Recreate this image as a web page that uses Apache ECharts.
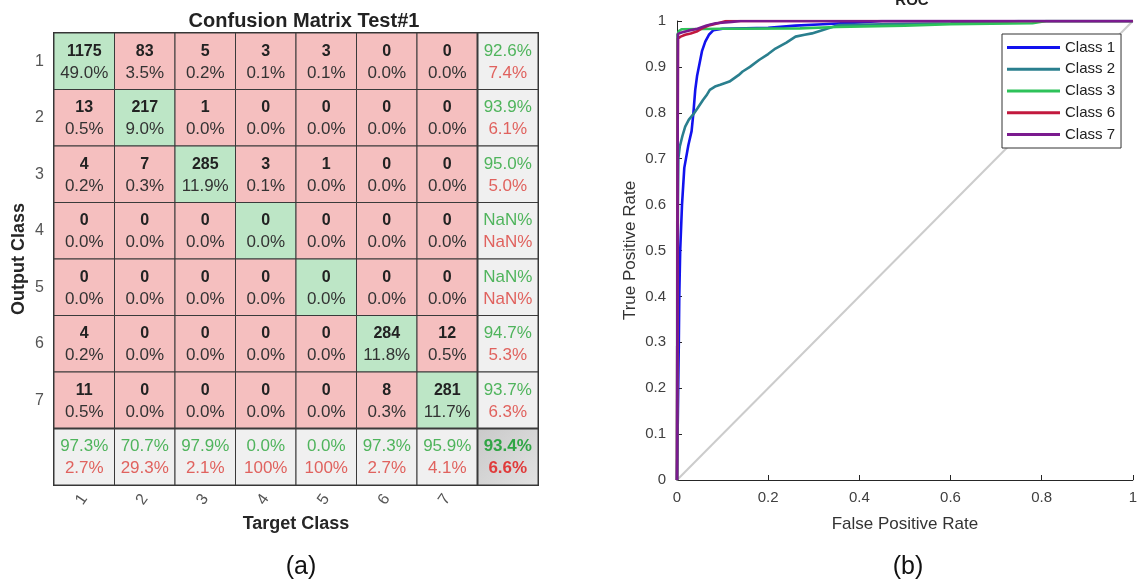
<!DOCTYPE html>
<html><head><meta charset="utf-8">
<script src="https://cdn.jsdelivr.net/npm/echarts@6/dist/echarts.min.js"></script>
<style>html,body{margin:0;padding:0;background:#fff}#c{width:1140px;height:585px}</style>
</head><body><div id="c"></div>
<script>
// ---------- Confusion matrix data ----------
const classes = ['1','2','3','4','5','6','7'];
// rows = output class, columns = target class
const counts = [
  [1175, 83, 5, 3, 3, 0, 0],
  [13, 217, 1, 0, 0, 0, 0],
  [4, 7, 285, 3, 1, 0, 0],
  [0, 0, 0, 0, 0, 0, 0],
  [0, 0, 0, 0, 0, 0, 0],
  [4, 0, 0, 0, 0, 284, 12],
  [11, 0, 0, 0, 0, 8, 281]
];
const cellPct = [
  [49.0, 3.5, 0.2, 0.1, 0.1, 0.0, 0.0],
  [0.5, 9.0, 0.0, 0.0, 0.0, 0.0, 0.0],
  [0.2, 0.3, 11.9, 0.1, 0.0, 0.0, 0.0],
  [0.0, 0.0, 0.0, 0.0, 0.0, 0.0, 0.0],
  [0.0, 0.0, 0.0, 0.0, 0.0, 0.0, 0.0],
  [0.2, 0.0, 0.0, 0.0, 0.0, 11.8, 0.5],
  [0.5, 0.0, 0.0, 0.0, 0.0, 0.3, 11.7]
];
const rowGood = [92.6, 93.9, 95.0, NaN, NaN, 94.7, 93.7];
const rowBad  = [7.4, 6.1, 5.0, NaN, NaN, 5.3, 6.3];
const colGood = [97.3, 70.7, 97.9, 0.0, 0.0, 97.3, 95.9];
const colBad  = [2.7, 29.3, 2.1, 100, 100, 2.7, 4.1];
const totalGood = 93.4;
const totalBad = 6.6;

// ---------- ROC data [FPR, TPR] ----------
const rocNames = ['Class 1', 'Class 2', 'Class 3', 'Class 6', 'Class 7'];
const rocClass1 = [[0,0],[0.002,0.15],[0.004,0.3],[0.005,0.4],[0.007,0.5],[0.011,0.6],[0.016,0.68],[0.025,0.73],[0.032,0.76],[0.036,0.8],[0.04,0.85],[0.044,0.88],[0.05,0.91],[0.055,0.935],[0.062,0.955],[0.07,0.97],[0.08,0.98],[0.1,0.983],[0.2,0.985],[0.26,0.99],[0.32,0.993],[0.4,0.997],[0.45,1],[1,1]];
const rocClass2 = [[0,0],[0.001,0.3],[0.002,0.6],[0.003,0.7],[0.006,0.726],[0.012,0.75],[0.018,0.77],[0.026,0.785],[0.036,0.797],[0.045,0.81],[0.057,0.828],[0.066,0.84],[0.072,0.85],[0.085,0.858],[0.095,0.861],[0.115,0.868],[0.125,0.875],[0.135,0.882],[0.144,0.89],[0.16,0.9],[0.18,0.915],[0.2,0.928],[0.216,0.94],[0.24,0.953],[0.26,0.966],[0.28,0.97],[0.296,0.973],[0.315,0.979],[0.332,0.984],[0.354,0.991],[0.45,0.993],[0.6,0.995],[0.7,0.997],[0.75,1],[1,1]];
const rocClass3 = [[0,0],[0.001,0.97],[0.004,0.978],[0.01,0.982],[0.1,0.983],[0.27,0.984],[0.35,0.987],[0.5,0.99],[0.6,0.993],[0.78,0.995],[0.81,1],[1,1]];
const rocClass6 = [[0,0],[0.001,0.5],[0.002,0.962],[0.008,0.966],[0.018,0.97],[0.03,0.973],[0.043,0.977],[0.055,0.984],[0.072,0.991],[0.09,0.995],[0.108,1],[1,1]];
const rocClass7 = [[0,0],[0.001,0.5],[0.002,0.972],[0.01,0.975],[0.025,0.979],[0.045,0.983],[0.065,0.99],[0.085,0.995],[0.12,0.998],[0.14,1],[1,1]];
const rocColors = ['#1212ee', '#2a7f8e', '#2ec25a', '#c2183e', '#7a1a8e'];

// ---------- helpers ----------
function fmt(v){
  if (isNaN(v)) return 'NaN%';
  if (v === 100) return '100%';
  return v.toFixed(1) + '%';
}
const FONT = '"Liberation Sans", Arial, Helvetica, sans-serif';
const cellData = [];
for (let r = 0; r < 8; r++) for (let c = 0; c < 8; c++) cellData.push([c, r]);

function renderCell(params, api){
  const c = api.value(0), r = api.value(1);
  const ctr = api.coord([c, r]);
  const sz = api.size([1, 1]);
  const w = sz[0], h = sz[1];
  const x0 = ctr[0] - w / 2, y0 = ctr[1] - h / 2;
  const children = [];
  let fill, t1, t2, c1, c2, f1w, f2w;
  if (r < 7 && c < 7) {
    fill = (r === c) ? '#bde6c6' : '#f5bfbf';
    t1 = String(counts[r][c]); t2 = fmt(cellPct[r][c]);
    c1 = '#222'; c2 = '#333'; f1w = 'bold'; f2w = 'normal';
  } else if (r < 7 && c === 7) {
    fill = '#f0f0f0'; t1 = fmt(rowGood[r]); t2 = fmt(rowBad[r]);
    c1 = '#4fb45c'; c2 = '#e0625e'; f1w = 'normal'; f2w = 'normal';
  } else if (r === 7 && c < 7) {
    fill = '#f0f0f0'; t1 = fmt(colGood[c]); t2 = fmt(colBad[c]);
    c1 = '#4fb45c'; c2 = '#e0625e'; f1w = 'normal'; f2w = 'normal';
  } else {
    fill = new echarts.graphic.LinearGradient(0, 0, 1, 1, [
      {offset: 0, color: '#c9c9c9'}, {offset: 1, color: '#e2e2e2'}]);
    t1 = fmt(totalGood); t2 = fmt(totalBad);
    c1 = '#30a545'; c2 = '#e03a3a'; f1w = 'bold'; f2w = 'bold';
  }
  children.push({type: 'rect', shape: {x: x0, y: y0, width: w, height: h},
    style: {fill: fill, stroke: '#3a3a3a', lineWidth: 1}});
  if (r === 7) children.push({type: 'line', shape: {x1: x0, y1: y0, x2: x0 + w, y2: y0},
    style: {stroke: '#3a3a3a', lineWidth: 2}});
  if (c === 7) children.push({type: 'line', shape: {x1: x0, y1: y0, x2: x0, y2: y0 + h},
    style: {stroke: '#3a3a3a', lineWidth: 2}});
  const bold1 = (r < 7 && c < 7);
  children.push({type: 'text', style: {x: ctr[0], y: ctr[1] - 10, text: t1, fill: c1,
    fontSize: bold1 ? 16 : 17, fontWeight: f1w, fontFamily: FONT, align: 'center', verticalAlign: 'middle'}});
  children.push({type: 'text', style: {x: ctr[0], y: ctr[1] + 12, text: t2, fill: c2,
    fontSize: 17, fontWeight: f2w, fontFamily: FONT, align: 'center', verticalAlign: 'middle'}});
  return {type: 'group', children: children};
}

const rocData = [rocClass1, rocClass2, rocClass3, rocClass6, rocClass7];
const rocSeries = rocData.map((d, k) => ({
  name: rocNames[k], type: 'line', xAxisIndex: 1, yAxisIndex: 1, data: d,
  symbol: 'none', showSymbol: false, z: 3 + k,
  itemStyle: {color: rocColors[k]},
  lineStyle: {color: rocColors[k], width: 2.6}
}));

const chart = echarts.init(document.getElementById('c'), null, {renderer: 'canvas'});
chart.setOption({
  animation: false,
  backgroundColor: '#ffffff',
  textStyle: {fontFamily: FONT},
  title: [
    {text: 'Confusion Matrix Test#1', left: 299, top: 6, textAlign: 'center',
      textStyle: {fontSize: 20, fontWeight: 'bold', color: '#222', fontFamily: FONT}},
    {text: 'ROC', left: 907, top: -12, textAlign: 'center',
      textStyle: {fontSize: 15, fontWeight: 'bold', color: '#222', fontFamily: FONT}},
    {text: '(a)', left: 296, top: 550, textAlign: 'center',
      textStyle: {fontSize: 25, fontWeight: 'normal', color: '#111', fontFamily: FONT}},
    {text: '(b)', left: 903, top: 550, textAlign: 'center',
      textStyle: {fontSize: 25, fontWeight: 'normal', color: '#111', fontFamily: FONT}}
  ],
  legend: {
    data: rocNames, orient: 'vertical', left: 1002, top: 34,
    icon: 'rect', itemWidth: 53, itemHeight: 3, itemGap: 5.7,
    padding: [5.6, 6, 5.6, 5],
    backgroundColor: '#fff', borderColor: '#333', borderWidth: 1,
    textStyle: {fontSize: 15, color: '#222', lineHeight: 16, fontFamily: FONT}
  },
  grid: [
    {left: 54, top: 33, width: 484, height: 452, show: true, borderColor: '#333', borderWidth: 2, backgroundColor: 'transparent'},
    {left: 677, top: 21, right: 3, bottom: 105}
  ],
  xAxis: [
    {gridIndex: 0, type: 'category', data: classes.concat(['']), position: 'bottom',
      axisLine: {show: false}, axisTick: {show: false}, splitLine: {show: false},
      axisLabel: {rotate: 55, margin: 11, fontSize: 16, color: '#555', fontFamily: FONT},
      name: 'Target Class', nameLocation: 'middle', nameGap: 30,
      nameTextStyle: {fontSize: 18, fontWeight: 'bold', color: '#262626', fontFamily: FONT}},
    {gridIndex: 1, type: 'value', min: 0, max: 1, interval: 0.2,
      axisLine: {show: true, lineStyle: {color: '#262626', width: 1}},
      axisTick: {show: true, inside: true, length: 5, lineStyle: {color: '#262626'}},
      splitLine: {show: false},
      axisLabel: {margin: 10, fontSize: 15, color: '#404040', fontFamily: FONT},
      name: 'False Positive Rate', nameLocation: 'middle', nameGap: 36,
      nameTextStyle: {fontSize: 17, color: '#333', fontFamily: FONT}}
  ],
  yAxis: [
    {gridIndex: 0, type: 'category', data: classes.concat(['']), inverse: true,
      axisLine: {show: false}, axisTick: {show: false}, splitLine: {show: false},
      axisLabel: {margin: 10, fontSize: 16, color: '#555', fontFamily: FONT},
      name: 'Output Class', nameLocation: 'middle', nameGap: 26,
      nameTextStyle: {fontSize: 18, fontWeight: 'bold', color: '#262626', fontFamily: FONT}},
    {gridIndex: 1, type: 'value', min: 0, max: 1, interval: 0.1,
      axisLine: {show: true, lineStyle: {color: '#262626', width: 1}},
      axisTick: {show: true, inside: true, length: 5, lineStyle: {color: '#262626'}},
      splitLine: {show: false},
      axisLabel: {margin: 11, fontSize: 15, color: '#404040', fontFamily: FONT},
      name: 'True Positive Rate', nameLocation: 'middle', nameGap: 38,
      nameTextStyle: {fontSize: 17, color: '#333', fontFamily: FONT}}
  ],
  series: [
    {type: 'custom', xAxisIndex: 0, yAxisIndex: 0, data: cellData, renderItem: renderCell, silent: true, z: 2},
    {type: 'line', xAxisIndex: 1, yAxisIndex: 1, data: [[0, 0], [1, 1]], symbol: 'none',
      silent: true, z: 1, lineStyle: {color: '#cccccc', width: 2}, itemStyle: {color: '#cccccc'}}
  ].concat(rocSeries)
});
</script>
</body></html>
